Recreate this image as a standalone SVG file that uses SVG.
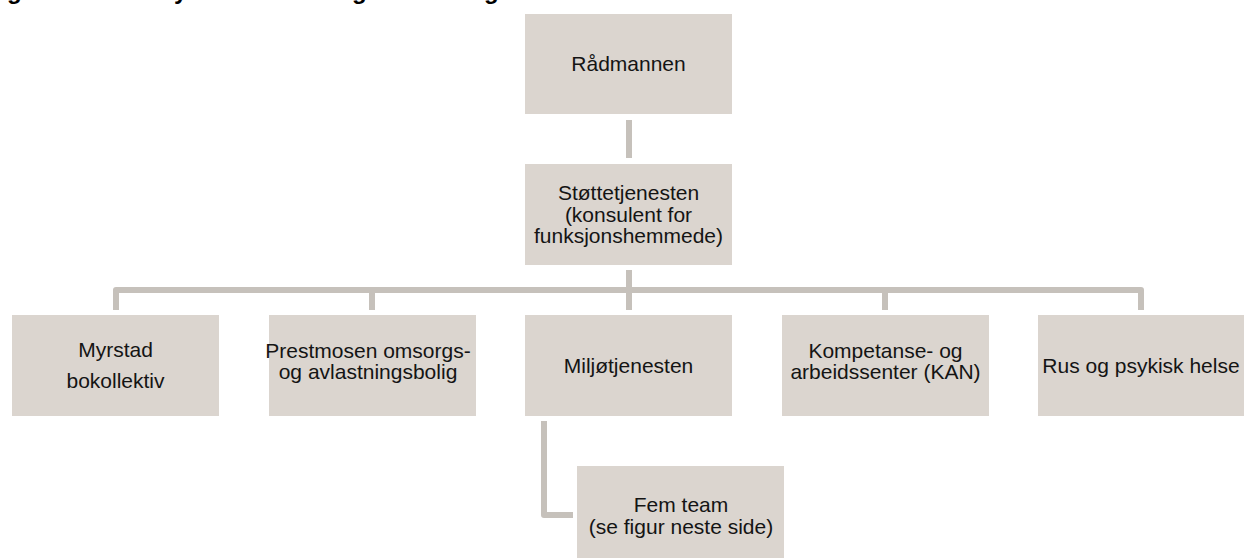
<svg xmlns="http://www.w3.org/2000/svg" width="1244" height="558" viewBox="0 0 1244 558">
<style>
.box{fill:#dbd5cf;}
.lbl{font-family:"Liberation Sans",Arial,sans-serif;font-size:21px;fill:#141414;text-anchor:middle;}
.ttl{font-family:"Liberation Sans",Arial,sans-serif;font-size:24px;font-weight:bold;fill:#000;}
.con{fill:none;stroke:#c6c1bb;stroke-width:6;stroke-linejoin:round;}
</style>
<rect width="1244" height="558" fill="#ffffff"/>
<text class="ttl" y="-1.5"><tspan x="7">g</tspan><tspan x="174">y</tspan><tspan x="352">g</tspan><tspan x="484">g</tspan></text>
<g id="connectors">
<path class="con" d="M629,120 V158"/>
<path class="con" d="M629,270 V310"/>
<path class="con" d="M116,310 V290 H1141 V310"/>
<path class="con" d="M372,290 V310"/>
<path class="con" d="M885,290 V310"/>
<path class="con" d="M544,421 V515 H573"/>
</g>
<g id="radmannen">
<rect class="box" x="525" y="14" width="207" height="100"/>
<text class="lbl" x="628.5" y="71">Rådmannen</text>
</g>
<g id="stottetjenesten">
<rect class="box" x="525" y="164" width="207" height="101"/>
<text class="lbl" x="628.5" y="200">Støttetjenesten</text>
<text class="lbl" x="628.5" y="221.5">(konsulent for</text>
<text class="lbl" x="628.5" y="243">funksjonshemmede)</text>
</g>
<g id="myrstad">
<rect class="box" x="12" y="315" width="207" height="101"/>
<text class="lbl" x="115.5" y="357">Myrstad</text>
<text class="lbl" x="115.5" y="388">bokollektiv</text>
</g>
<g id="prestmosen">
<rect class="box" x="269" y="315" width="207" height="101"/>
<text class="lbl" x="368" y="358">Prestmosen omsorgs-</text>
<text class="lbl" x="368" y="379">og avlastningsbolig</text>
</g>
<g id="miljotjenesten">
<rect class="box" x="525" y="315" width="207" height="101"/>
<text class="lbl" x="628.5" y="373">Miljøtjenesten</text>
</g>
<g id="kompetanse">
<rect class="box" x="782" y="315" width="207" height="101"/>
<text class="lbl" x="885.5" y="358">Kompetanse- og</text>
<text class="lbl" x="885.5" y="379">arbeidssenter (KAN)</text>
</g>
<g id="rus">
<rect class="box" x="1038" y="315" width="207" height="101"/>
<text class="lbl" x="1141" y="373">Rus og psykisk helse</text>
</g>
<g id="femteam">
<rect class="box" x="577" y="466" width="207" height="100"/>
<text class="lbl" x="681" y="512">Fem team</text>
<text class="lbl" x="681" y="534">(se figur neste side)</text>
</g>
</svg>
